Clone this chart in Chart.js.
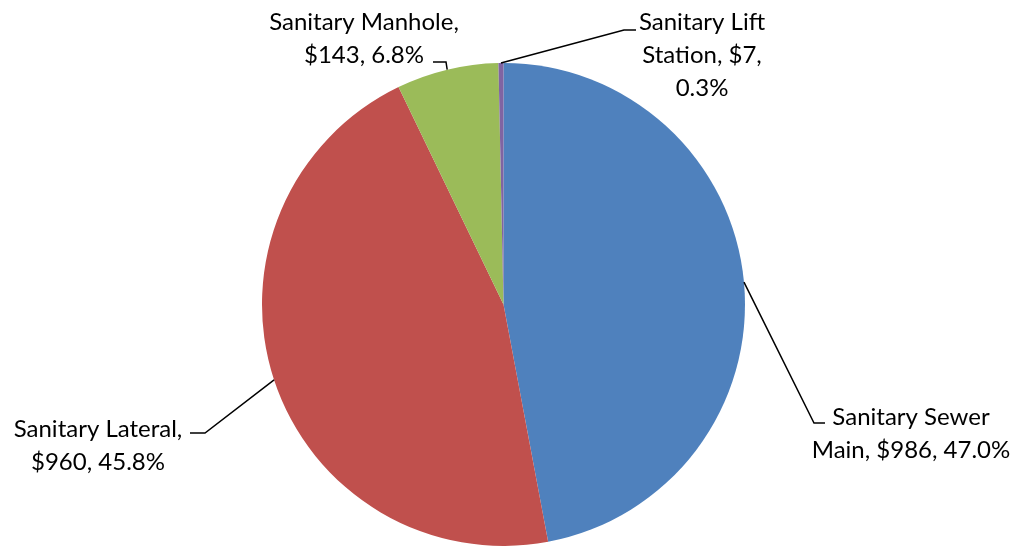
<!DOCTYPE html>
<html>
<head>
<meta charset="utf-8">
<script src="https://cdn.jsdelivr.net/npm/chart.js@4"></script>
<style>
  html, body { margin: 0; padding: 0; background: #fff; }
  #wrap { width: 1016px; height: 546px; }
</style>
</head>
<body>
<div id="wrap"><canvas id="pieChart" width="1016" height="546"></canvas></div>
<script>
// Chart data
const categories = ["Sanitary Sewer Main", "Sanitary Lateral", "Sanitary Manhole", "Sanitary Lift Station"];
const costs = [986, 960, 143, 7];
const sliceColors = ["#4F81BD", "#C0504D", "#9BBB59", "#8064A2"];

// How each label is split into lines ({v} = value, {p} = percent)
const labelLines = [
  ["Sanitary Sewer", "Main, ${v}, {p}%"],
  ["Sanitary Lateral,", "${v}, {p}%"],
  ["Sanitary Manhole,", "${v}, {p}%"],
  ["Sanitary Lift", "Station, ${v},", "{p}%"]
];

// Label layout: elbow of leader line, end of leader line, text center and first line y
const labelLayout = [
  { elbow: [814, 423], end: [825, 423], cx: 911, y: 417 },
  { elbow: [205, 433], end: [190, 433], cx: 98, y: 429 },
  { elbow: [446, 62], end: [433, 62], cx: 364, y: 22 },
  { elbow: [624, 30], end: [636, 30], cx: 702, y: 22 }
];

const FONT = '24px Lato, "Open Sans", sans-serif';
const LINE_H = 33;

// Draws data labels with leader lines, Excel style
const leaderLabels = {
  id: "leaderLabels",
  afterDatasetsDraw(chart) {
    const ctx = chart.ctx;
    const meta = chart.getDatasetMeta(0);
    const data = chart.data.datasets[0].data;
    const total = data.reduce((a, b) => a + b, 0);

    ctx.save();
    meta.data.forEach((arc, i) => {
      const p = arc.getProps(["x", "y", "startAngle", "endAngle", "outerRadius"], true);
      const mid = (p.startAngle + p.endAngle) / 2;
      const sx = p.x + Math.cos(mid) * p.outerRadius;
      const sy = p.y + Math.sin(mid) * p.outerRadius;
      const lay = labelLayout[i];

      ctx.strokeStyle = "#000";
      ctx.lineWidth = 1.5;
      ctx.beginPath();
      ctx.moveTo(sx, sy);
      ctx.lineTo(lay.elbow[0], lay.elbow[1]);
      ctx.lineTo(lay.end[0], lay.end[1]);
      ctx.stroke();

      const pct = (data[i] / total * 100).toFixed(1);
      ctx.fillStyle = "#000";
      ctx.font = FONT;
      ctx.textAlign = "center";
      ctx.textBaseline = "middle";
      labelLines[i].forEach((ln, k) => {
        const txt = ln.replace("{v}", data[i]).replace("{p}", pct);
        ctx.fillText(txt, lay.cx, lay.y + k * LINE_H);
      });
    });
    ctx.restore();
  }
};

const ctx = document.getElementById("pieChart").getContext("2d");
new Chart(ctx, {
  type: "pie",
  data: {
    labels: categories,
    datasets: [{
      data: costs,
      backgroundColor: sliceColors,
      borderWidth: 0
    }]
  },
  options: {
    responsive: false,
    animation: false,
    layout: { padding: { left: 262, right: 271, top: 63, bottom: 0 } },
    plugins: {
      legend: { display: false },
      tooltip: { enabled: false }
    }
  },
  plugins: [leaderLabels]
});
</script>
</body>
</html>
